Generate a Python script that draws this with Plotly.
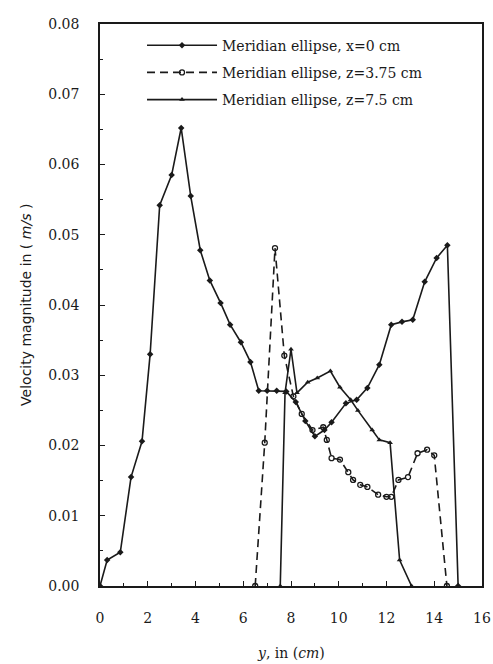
import plotly.graph_objects as go

# Series: Meridian ellipse, x=0 cm
y_a = [0.0, 0.3, 0.85, 1.3, 1.76, 2.1, 2.5, 3.0, 3.4, 3.8, 4.2, 4.6, 5.05, 5.45, 5.9, 6.3,
       6.65, 7.0, 7.4, 7.8, 8.2, 8.6, 9.0, 9.4, 9.7, 10.3, 10.75, 11.2, 11.7, 12.2, 12.65,
       13.1, 13.6, 14.1, 14.55, 15.0]
v_a = [0.0, 0.0037, 0.0048, 0.0155, 0.0206, 0.033, 0.0542, 0.0585, 0.0652, 0.0555, 0.0478,
       0.0435, 0.0403, 0.0372, 0.0347, 0.0319, 0.0278, 0.0278, 0.0278, 0.0277, 0.0262,
       0.0235, 0.0213, 0.0222, 0.0233, 0.026, 0.0265, 0.0282, 0.0315, 0.0372, 0.0376,
       0.0379, 0.0433, 0.0467, 0.0485, 0.0]

# Series: Meridian ellipse, z=3.75 cm
y_b = [6.5, 6.9, 7.33, 7.72, 8.1, 8.45, 8.9, 9.35, 9.5, 9.7, 10.05, 10.4, 10.6, 10.9, 11.2,
       11.65, 12.0, 12.2, 12.5, 12.9, 13.3, 13.7, 14.0, 14.53]
v_b = [0.0, 0.0204, 0.0481, 0.0328, 0.0270, 0.0245, 0.0222, 0.0226, 0.0208, 0.0182, 0.018,
       0.0162, 0.0151, 0.0144, 0.0141, 0.013, 0.0127, 0.0127, 0.0151, 0.0155, 0.0189,
       0.0194, 0.0186, 0.0]

# Series: Meridian ellipse, z=7.5 cm
y_c = [7.55, 7.75, 8.0, 8.25, 8.7, 9.1, 9.65, 10.05, 10.5, 10.8, 11.4, 11.7, 12.15, 12.55, 13.05]
v_c = [0.0, 0.0275, 0.0337, 0.0275, 0.029, 0.0296, 0.0306, 0.0283, 0.0265, 0.025, 0.0222,
       0.0208, 0.0204, 0.0037, 0.0]

names = ["Meridian ellipse, x=0 cm", "Meridian ellipse, z=3.75 cm", "Meridian ellipse, z=7.5 cm"]
x_title = "<i>y</i>, in (<i>cm</i>)"
y_title = "Velocity magnitude in ( <i>m/s</i> )"

ink = "#1a1a1a"
font = "DejaVu Serif"

fig = go.Figure()
fig.add_trace(go.Scatter(x=y_a, y=v_a, name=names[0], mode="lines+markers", legendgroup="a",
                         line=dict(color=ink, width=1.6),
                         marker=dict(symbol="diamond", size=5, color=ink)))
fig.add_trace(go.Scatter(x=y_b, y=v_b, name=names[1], mode="lines+markers", legendgroup="b",
                         line=dict(color=ink, width=1.6, dash="8px,5px"),
                         marker=dict(symbol="circle-open", size=5, color=ink, line=dict(width=1.3))))
fig.add_trace(go.Scatter(x=y_c, y=v_c, name=names[2], mode="lines+markers", legendgroup="c",
                         line=dict(color=ink, width=1.6),
                         marker=dict(symbol="triangle-up", size=5, color=ink)))

axis_common = dict(showline=True, linecolor=ink, linewidth=1.5, mirror=True, automargin=False,
                   ticks="inside", tickcolor=ink, ticklen=5, showgrid=False, zeroline=False,
                   tickfont=dict(family=font, size=14, color=ink))

fig.update_layout(
    width=493, height=664,
    margin=dict(l=100, r=11, t=24, b=78),
    paper_bgcolor="white", plot_bgcolor="white",
    font=dict(family=font, color=ink, size=14),
    showlegend=True,
    legend=dict(x=0.11, y=0.99, xanchor="left", yanchor="top", bgcolor="rgba(0,0,0,0)",
                font=dict(family=font, size=14, color=ink), itemwidth=70, tracegroupgap=6),
    xaxis=dict(range=[0, 16], tickvals=[0, 2, 4, 6, 8, 10, 12, 14, 16], ticklabelstandoff=18,
               minor=dict(dtick=1, ticks="inside", ticklen=3, tickcolor=ink),
               **axis_common),
    yaxis=dict(range=[0, 0.08], tickvals=[0, 0.01, 0.02, 0.03, 0.04, 0.05, 0.06, 0.07, 0.08],
               tickformat=".2f", ticklabelstandoff=16,
               minor=dict(dtick=0.005, ticks="inside", ticklen=3, tickcolor=ink),
               **axis_common),
    annotations=[
        dict(text=x_title, xref="paper", yref="paper", x=0.5, y=-0.119,
             xanchor="center", yanchor="middle", showarrow=False,
             font=dict(family=font, size=14, color=ink)),
        dict(text=y_title, xref="paper", yref="paper", x=-0.194, y=0.5, textangle=-90,
             xanchor="center", yanchor="middle", showarrow=False,
             font=dict(family="DejaVu Sans", size=14, color=ink)),
    ],
)

fig.write_html("out.html")
